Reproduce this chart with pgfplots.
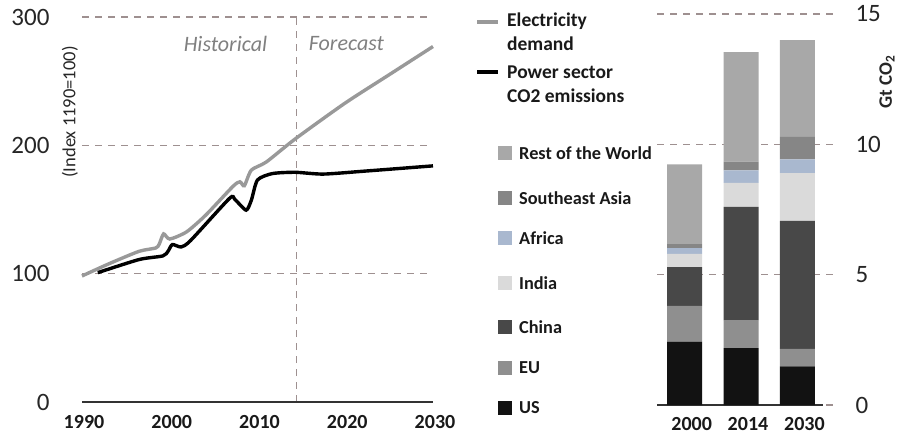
\documentclass[border=0pt]{standalone}
\usepackage{fontspec}
\setmainfont{Carlito}
\usepackage{pgfplots}
\pgfplotsset{compat=1.18}
\definecolor{gridc}{HTML}{9E9090}
\definecolor{elec}{HTML}{999999}
\definecolor{cUS}{HTML}{121212}
\definecolor{cEU}{HTML}{8F8F8F}
\definecolor{cCN}{HTML}{484848}
\definecolor{cIN}{HTML}{DADADA}
\definecolor{cAF}{HTML}{A9B8CF}
\definecolor{cSEA}{HTML}{868686}
\definecolor{cROW}{HTML}{A8A8A8}
\begin{document}
\begin{tikzpicture}[x=1pt,y=1pt]
\path[use as bounding box] (0,0) rectangle (897,437);
% ---------- left chart ----------
\begin{axis}[
  at={(82pt,35pt)}, anchor=south west, scale only axis,
  width=351pt, height=385pt,
  xmin=1990, xmax=2030, ymin=0, ymax=300,
  axis line style={draw=none}, major tick length=0pt,
  xtick={1990,2000,2010,2020,2030}, ytick={0,100,200,300},
  xticklabel style={font=\fontsize{20}{22}\selectfont\bfseries, text=black!90, yshift=-10pt, xshift=2pt},
  yticklabel style={font=\fontsize{25}{26}\selectfont, text=black!85, anchor=east, xshift=-29pt},
  /pgf/number format/assume math mode=true,
  /pgf/number format/1000 sep={},
  ymajorgrids, grid style={gridc, dash pattern=on 7pt off 6pt, line width=1.1pt},
  clip=false,
]
\draw[gridc, dash pattern=on 7pt off 6pt, line width=1.1pt] (axis cs:2014.4,0) -- (axis cs:2014.4,300);
\draw[black!80, line width=1.5pt] (axis cs:1990,0) -- (axis cs:2030,0);
\addplot[elec, line width=3.4pt, smooth, tension=0.4] coordinates {
 (1990,98.2) (1993.1,107.8) (1996.5,117.4) (1998.4,120) (1998.8,123)
 (1999.3,131) (2000,127) (2001.9,132.5) (2004.1,145.6) (2007.2,168)
 (2008,171.6) (2008.5,168.5) (2009.3,180.7) (2011,187) (2014.3,205)
 (2020,233) (2025,255) (2030,277)};
\addplot[black, line width=3.4pt, smooth, tension=0.4] coordinates {
 (1991.8,100.8) (1996.5,111) (1999.2,113.8) (1999.8,117.4) (2000.3,122.7)
 (2001.3,120.8) (2002.4,126) (2006.8,158.6) (2007.4,158) (2008.7,149.5)
 (2009.3,157.3) (2010,173) (2011.7,178) (2014.3,179) (2017.5,177.6)
 (2022.4,180) (2030,184)};
\end{axis}
\node[font=\fontsize{22}{24}\selectfont\itshape, text=black!50] at (225.5,393) {Historical};
\node[font=\fontsize{22}{24}\selectfont\itshape, text=black!50] at (346.5,393) {Forecast};
\node[rotate=90, font=\fontsize{18.5}{20}\selectfont, text=black!85] at (70,325) {(Index 1190=100)};
% line legend
\draw[elec, line width=3.4pt] (477,415) -- (498,415);
\draw[black, line width=3.4pt] (477,365) -- (498,365);
\node[anchor=west, align=left, inner sep=0pt, font=\fontsize{19.5}{24}\selectfont\bfseries, text=black!90] at (507,405) {Electricity\\demand};
\node[anchor=west, align=left, inner sep=0pt, font=\fontsize{19.5}{24}\selectfont\bfseries, text=black!90] at (507,353) {Power sector\\CO2 emissions};
% bar legend
\foreach \c/\t/\yy in {cROW/Rest of the World/153, cSEA/Southeast Asia/198, cAF/Africa/238, cIN/India/283, cCN/China/327, cEU/EU/368, cUS/US/408}{
  \fill[\c] (498,437-\yy-7) rectangle (512,437-\yy+7);
  \node[anchor=west, inner sep=0pt, font=\fontsize{18.3}{20}\selectfont\bfseries, text=black!90] at (519,437-\yy) {\t};
}
% ---------- right chart ----------
\begin{axis}[
  at={(657pt,32pt)}, anchor=south west, scale only axis,
  width=181pt, height=391pt,
  xmin=-0.49, xmax=2.72, ymin=0, ymax=15,
  ybar stacked, bar width=35pt,
  axis line style={draw=none}, major tick length=0pt,
  xtick={0,1,2}, xticklabels={2000,2014,2030},
  ytick={0,5,10,15}, yticklabel pos=right,
  xticklabel style={font=\fontsize{20}{22}\selectfont\bfseries, text=black!90, yshift=-9pt, xshift=7pt},
  yticklabel style={font=\fontsize{25}{26}\selectfont, text=black!85, anchor=west, xshift=14pt},
  /pgf/number format/assume math mode=true,
  ymajorgrids, grid style={gridc, dash pattern=on 7pt off 6pt, line width=1.1pt},
  clip=false,
]
\addplot[fill=cUS, draw=none] coordinates {(0,2.43) (1,2.18) (2,1.48)};
\addplot[fill=cEU, draw=none] coordinates {(0,1.37) (1,1.08) (2,0.67)};
\addplot[fill=cCN, draw=none] coordinates {(0,1.49) (1,4.34) (2,4.91)};
\addplot[fill=cIN, draw=none] coordinates {(0,0.51) (1,0.92) (2,1.84)};
\addplot[fill=cAF, draw=none] coordinates {(0,0.22) (1,0.48) (2,0.52)};
\addplot[fill=cSEA, draw=none] coordinates {(0,0.15) (1,0.34) (2,0.87)};
\addplot[fill=cROW, draw=none] coordinates {(0,3.06) (1,4.20) (2,3.71)};
\draw[black!80, line width=1.5pt] (axis cs:-0.49,0) -- (axis cs:2.45,0);
\end{axis}
\node[rotate=90, font=\fontsize{19}{20}\selectfont\bfseries, text=black!85] at (887,355) {Gt CO\textsubscript{2}};
\end{tikzpicture}
\end{document}
